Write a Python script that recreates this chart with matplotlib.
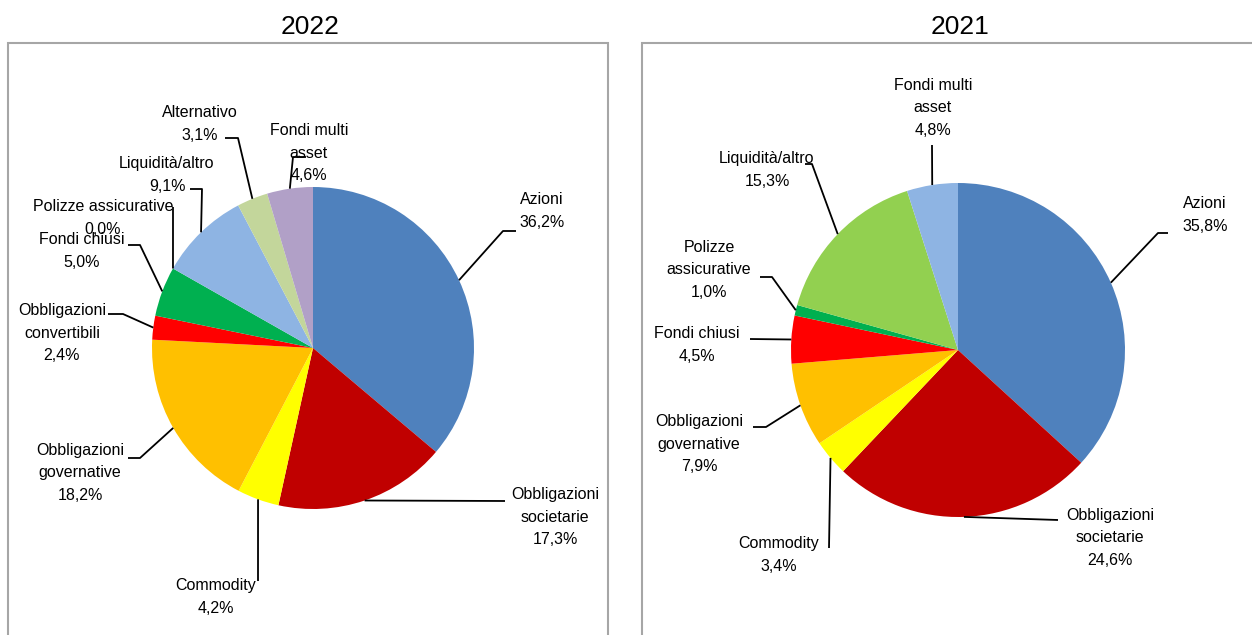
import matplotlib.pyplot as plt
from matplotlib.patches import Rectangle
import numpy as np

W, H = 1252, 635

# dati 2022
labels_22 = ["Azioni", "Obbligazioni\nsocietarie", "Commodity", "Obbligazioni\ngovernative",
             "Obbligazioni\nconvertibili", "Fondi chiusi", "Polizze assicurative",
             "Liquidità/altro", "Alternativo", "Fondi multi\nasset"]
values_22 = [36.2, 17.3, 4.2, 18.2, 2.4, 5.0, 0.0, 9.1, 3.1, 4.6]
colors_22 = ["#4F81BD", "#C00000", "#FFFF00", "#FFC000", "#FF0000", "#00B050",
             "#00B050", "#8EB4E3", "#C3D69B", "#B1A0C7"]

# dati 2021
labels_21 = ["Azioni", "Obbligazioni\nsocietarie", "Commodity", "Obbligazioni\ngovernative",
             "Fondi chiusi", "Polizze\nassicurative", "Liquidità/altro", "Fondi multi\nasset"]
values_21 = [35.8, 24.6, 3.4, 7.9, 4.5, 1.0, 15.3, 4.8]
colors_21 = ["#4F81BD", "#C00000", "#FFFF00", "#FFC000", "#FF0000", "#00B050",
             "#92D050", "#8EB4E3"]

# posizioni etichette (pixel, y verso il basso): testo, gomito, fine linea
pos_22 = [((542, 211), (503, 231), (516, 231)),
          ((555, 517), (505, 501), (505, 501)),
          ((216, 597), (258, 581), (258, 581)),
          ((80, 473), (140, 458), (128, 458)),
          ((62, 333), (123, 314), (108, 314)),
          ((82, 251), (140, 245), (128, 245)),
          ((103, 218), (173, 207), (173, 207)),
          ((167, 175), (202, 189), (190, 189)),
          ((200, 124), (238, 138), (225, 138)),
          ((309, 153), (293, 157), (306, 157))]
pos_21 = [((1205, 215), (1158, 233), (1168, 233)),
          ((1110, 538), (1058, 520), (1058, 520)),
          ((779, 555), (829, 548), (829, 548)),
          ((699, 444), (766, 427), (753, 427)),
          ((697, 345), (750, 339), (750, 339)),
          ((709, 270), (772, 277), (760, 277)),
          ((767, 170), (812, 164), (805, 164)),
          ((933, 108), (932, 145), (932, 145))]

plt.rcParams['font.family'] = ['Liberation Sans', 'DejaVu Sans']

fig = plt.figure(figsize=(W / 100, H / 100), dpi=100)
ax = fig.add_axes([0, 0, 1, 1])


def Y(y):
    return H - y


def draw_pie(values, colors, labels, pos, center, r):
    wedges, _ = ax.pie(values, colors=colors, startangle=90, counterclock=False,
                       center=(center[0], Y(center[1])), radius=r,
                       wedgeprops=dict(linewidth=0), frame=True)
    for w, lab, v, (txt, elb, end) in zip(wedges, labels, values, pos):
        mid = np.deg2rad((w.theta1 + w.theta2) / 2)
        ax_x = center[0] + r * np.cos(mid)
        ax_y = Y(center[1]) + r * np.sin(mid)
        ax.plot([ax_x, elb[0], end[0]], [ax_y, Y(elb[1]), Y(end[1])],
                color="black", lw=1.3, solid_capstyle='butt')
        s = lab + "\n" + ("%.1f%%" % v).replace(".", ",")
        ax.text(txt[0], Y(txt[1]), s, ha='center', va='center', fontsize=11.5,
                linespacing=1.65, multialignment='center')


draw_pie(values_22, colors_22, labels_22, pos_22, (313, 348), 161)
draw_pie(values_21, colors_21, labels_21, pos_21, (958, 350), 167)

ax.set_xlim(0, W)
ax.set_ylim(0, H)
ax.axis('off')

ax.add_patch(Rectangle((8, Y(660)), 600, 617, fill=False, ec="#A6A6A6", lw=1.5))
ax.add_patch(Rectangle((642, Y(660)), 640, 617, fill=False, ec="#A6A6A6", lw=1.5))

ax.text(310, Y(27), "2022", ha='center', va='center', fontsize=19)
ax.text(960, Y(27), "2021", ha='center', va='center', fontsize=19)

fig.savefig("out.png", dpi=100)
